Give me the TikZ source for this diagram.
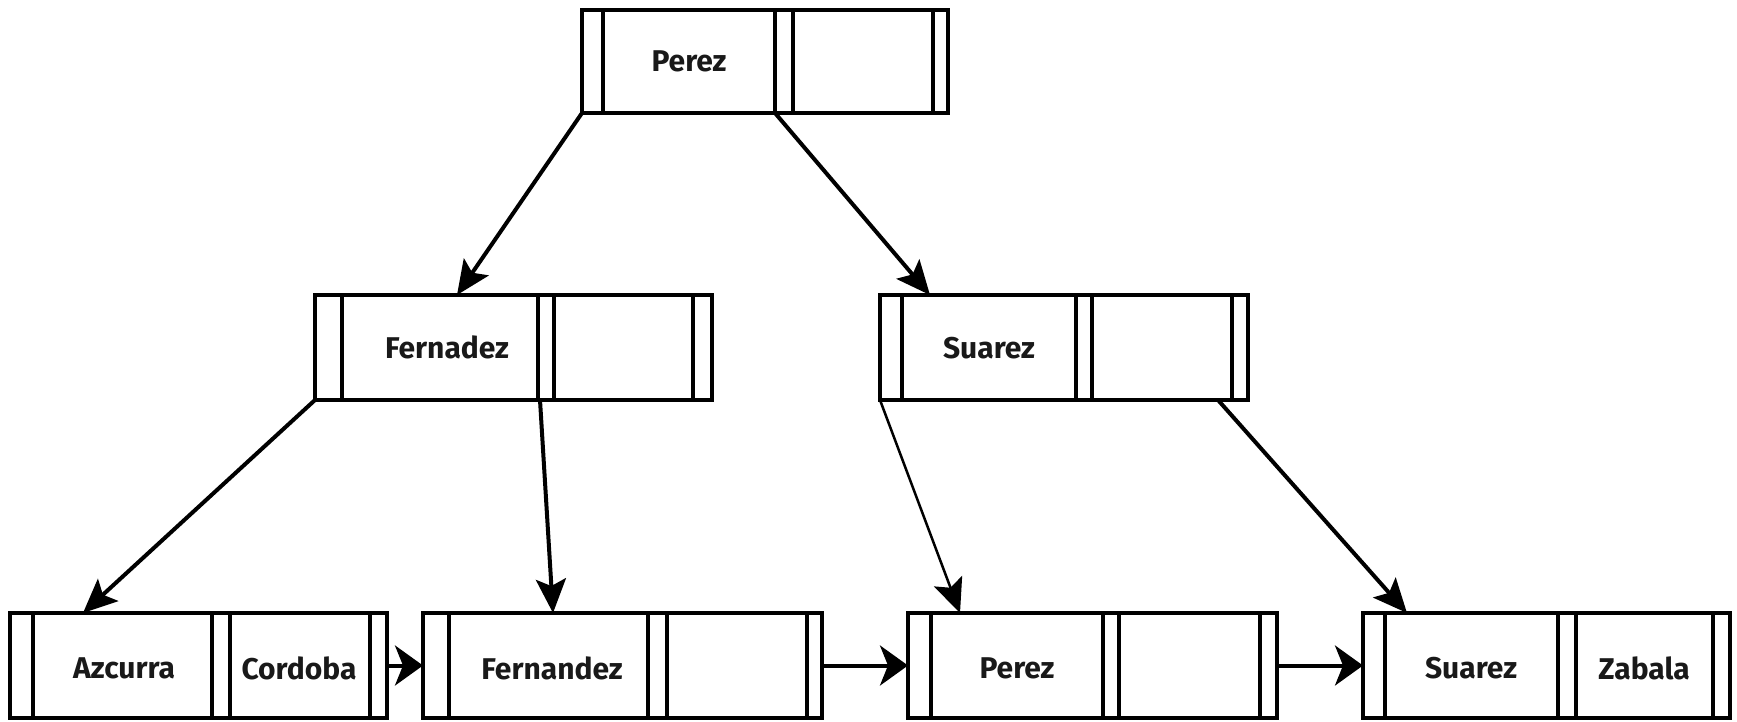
\documentclass[tikz,border=0pt]{standalone}
\usepackage{fontspec}
\setmainfont{Fira Sans}
\usetikzlibrary{arrows.meta,calc}
\newcommand\recordbox[6]{%
  \node[rec, minimum width=#4pt, minimum height=#5pt] (#1) at (#2,#3) {};
  \foreach \dx in {#6} \draw[div] ([xshift=\dx pt]#1.north west) -- ([xshift=\dx pt]#1.south west);
}
\begin{document}
\begin{tikzpicture}[x=1pt,y=-1pt,
  rec/.style={draw, line width=4.5pt, inner sep=0pt, outer sep=0pt, anchor=north west},
  div/.style={line width=4.5pt},
  key/.style={font=\fontsize{30}{31}\selectfont\bfseries, inner sep=0pt, text=black!90},
  link/.style={line width=4pt, -{Stealth[length=28pt,width=40pt,inset=8pt]}},
  ptr/.style={line width=4pt, -{Stealth[length=34pt,width=30pt,inset=7pt]}},
  thinptr/.style={line width=2.5pt, -{Stealth[length=34pt,width=30pt,inset=7pt]}}]
\useasboundingbox[fill=white] (0,0) rectangle (1737,721);

\recordbox{root}{582}{10}{366}{103}{21,193,211,351}
\recordbox{fer}{315}{295}{397}{105}{27,223,239,378}
\recordbox{sua}{880}{295}{368}{105}{22,196,212,352}
\recordbox{azc}{10}{613}{377}{105}{23,202,220,360}
\recordbox{fdz}{423}{613}{399}{105}{26,225,244,384}
\recordbox{per}{908}{613}{369}{105}{23,195,211,352}
\recordbox{sz}{1363}{613}{367}{105}{22,195,213,350}

\node[key] (rootk) at (689,61) {Perez};
\node[key] (ferk) at (447,347) {Fernadez};
\node[key] (suak) at (989,348) {Suarez};
\node[key] (azck1) at (124,668) {Azcurra};
\node[key] (azck2) at (299,668) {Cordoba};
\node[key] (fdzk) at (552,668) {Fernandez};
\node[key] (perk) at (1017,668) {Perez};
\node[key] (szk1) at (1471,668) {Suarez};
\node[key] (szk2) at (1644,668) {Zabala};

\draw[ptr] (root.south west) -- ([xshift=142pt]fer.north west);
\draw[ptr] ([xshift=193pt]root.south west) -- ([xshift=50pt]sua.north west);
\draw[ptr] (fer.south west) -- ([xshift=73pt]azc.north west);
\draw[ptr] ([xshift=225pt]fer.south west) -- ([xshift=130pt]fdz.north west);
\draw[thinptr] (sua.south west) -- ([xshift=52pt]per.north west);
\draw[ptr] ([xshift=338pt]sua.south west) -- ([xshift=44pt]sz.north west);

\draw[link] (azc.east) -- (fdz.west);
\draw[link] (fdz.east) -- (per.west);
\draw[link] (per.east) -- (sz.west);
\end{tikzpicture}
\end{document}
